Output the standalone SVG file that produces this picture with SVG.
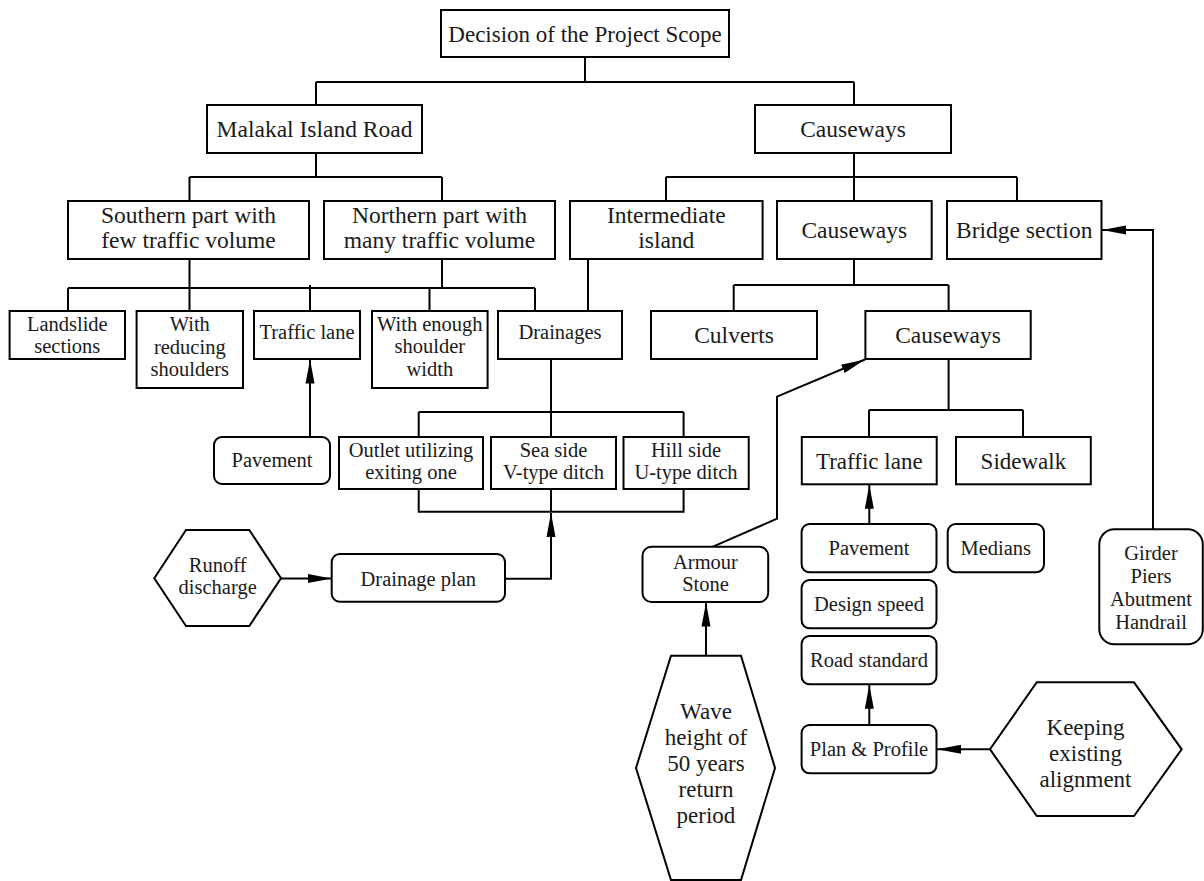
<svg xmlns="http://www.w3.org/2000/svg" width="1204" height="881" viewBox="0 0 1204 881">
<style>
.box{fill:#fff;stroke:#000;stroke-width:2}
.ln{fill:none;stroke:#000;stroke-width:2}
.arr{fill:none;stroke:#000;stroke-width:2;marker-end:url(#ah)}
text{font-family:'Liberation Serif','DejaVu Serif',serif;fill:#1a1a1a;text-anchor:middle}
.b{font-size:23.5px}
.m{font-size:23px}
.s{font-size:20.5px}
</style>
<defs>
<marker id="ah" markerUnits="userSpaceOnUse" markerWidth="25" markerHeight="10" refX="24" refY="5" orient="auto">
<path d="M0,0.5 L24,5 L0,9.5 z" fill="#000"/>
</marker>
</defs>
<rect width="1204" height="881" fill="#fff"/>
<g id="connectors">
<path class="ln" d="M585,57 V82 M316,82 H854 M316,82 V105 M854,82 V105"/>
<path class="ln" d="M316,153 V177 M189.5,177 H442 M189.5,177 V201 M442,177 V201"/>
<path class="ln" d="M854,153 V177 M666,177 H1017 M666,177 V201 M854,177 V201 M1017,177 V201"/>
<path class="ln" d="M189.5,259 V288 M442,259 V288 M68,288 H535 M68,288 V311 M189.5,288 V311 M310,285 V311 M429.5,288 V311 M535,288 V311"/>
<path class="ln" d="M588,259 V311"/>
<path class="ln" d="M551,359 V437 M418.7,412 H683.6 M418.7,412 V437 M683.6,412 V437"/>
<path class="ln" d="M418.7,489 V511.7 H683.6 V489 M551,489 V512"/>
<path class="arr" d="M505,578.7 H551 V513"/>
<path class="arr" d="M281,578.5 H331.7"/>
<path class="arr" d="M310,437 V359.5"/>
<path class="ln" d="M854,259 V285 M733.7,285 H948.6 M733.7,285 V311 M948.6,285 V311"/>
<path class="ln" d="M948.6,359 V410 M869,410 H1023 M869,410 V437 M1023,410 V437"/>
<path class="arr" d="M869.3,524 V484.8"/>
<path class="arr" d="M869.3,725 V684.8"/>
<path class="arr" d="M990,749.3 H937"/>
<path class="arr" d="M706,655.7 V602.5"/>
<path class="arr" d="M713,546.7 L777,518.7 V396.7 L865,359.5"/>
<path class="arr" d="M1153,529.3 V230 H1102"/>
</g>
<g id="n-top"><rect class="box" x="441" y="10" width="288" height="47"/><text class="m" x="585" y="41.5">Decision of the Project Scope</text></g>
<g id="n-malakal"><rect class="box" x="207" y="105" width="215" height="48"/><text class="b" x="314.5" y="136.5">Malakal Island Road</text></g>
<g id="n-causeways1"><rect class="box" x="755" y="105" width="196" height="48"/><text class="b" x="853" y="136.5">Causeways</text></g>
<g id="n-southern"><rect class="box" x="68" y="201" width="241" height="58"/><text class="b" x="188.5" y="223.3">Southern part with</text><text class="b" x="188.5" y="248.3">few traffic volume</text></g>
<g id="n-northern"><rect class="box" x="324" y="201" width="231" height="58"/><text class="b" x="439.5" y="223.3">Northern part with</text><text class="b" x="439.5" y="248.3">many traffic volume</text></g>
<g id="n-intermediate"><rect class="box" x="570" y="201" width="192.6" height="58"/><text class="b" x="666.3" y="222.7">Intermediate</text><text class="b" x="666.3" y="248.3">island</text></g>
<g id="n-causeways2"><rect class="box" x="777" y="201" width="154.7" height="58"/><text class="b" x="854.3" y="238.3">Causeways</text></g>
<g id="n-bridge"><rect class="box" x="947" y="201" width="154.5" height="58"/><text class="b" x="1024.2" y="238.3">Bridge section</text></g>
<g id="n-landslide"><rect class="box" x="9.6" y="311" width="115.4" height="48"/><text class="s" x="67.3" y="330.7">Landslide</text><text class="s" x="67.3" y="353.3">sections</text></g>
<g id="n-reducing"><rect class="box" x="136.6" y="311" width="106.4" height="77"/><text class="s" x="189.8" y="330.7">With</text><text class="s" x="189.8" y="353.5">reducing</text><text class="s" x="189.8" y="376">shoulders</text></g>
<g id="n-trafficlane1"><rect class="box" x="254" y="311" width="106" height="48"/><text class="s" x="307" y="339.3">Traffic lane</text></g>
<g id="n-enough"><rect class="box" x="372" y="311" width="115.6" height="77"/><text class="s" x="429.8" y="330.5">With enough</text><text class="s" x="429.8" y="353.3">shoulder</text><text class="s" x="429.8" y="376">width</text></g>
<g id="n-drainages"><rect class="box" x="498" y="311" width="124" height="48"/><text class="s" x="560" y="339.3">Drainages</text></g>
<g id="n-culverts"><rect class="box" x="651" y="311" width="166" height="48"/><text class="b" x="734" y="343">Culverts</text></g>
<g id="n-causeways3"><rect class="box" x="865.4" y="311" width="165.3" height="48"/><text class="b" x="948" y="343">Causeways</text></g>
<g id="n-pavement1"><rect class="box" x="214" y="437" width="116" height="47" rx="8"/><text class="s" x="272" y="467.3">Pavement</text></g>
<g id="n-outlet"><rect class="box" x="339" y="437" width="144" height="52"/><text class="s" x="411" y="456.7">Outlet utilizing</text><text class="s" x="411" y="479.3">exiting one</text></g>
<g id="n-seaside"><rect class="box" x="491" y="437" width="125" height="52"/><text class="s" x="553.5" y="456.7">Sea side</text><text class="s" x="553.5" y="479.3">V-type ditch</text></g>
<g id="n-hillside"><rect class="box" x="623.5" y="437" width="125.2" height="52"/><text class="s" x="686" y="456.7">Hill side</text><text class="s" x="686" y="479.3">U-type ditch</text></g>
<g id="n-trafficlane2"><rect class="box" x="801.8" y="437" width="134.9" height="47.3"/><text class="m" x="869.3" y="469.3">Traffic lane</text></g>
<g id="n-sidewalk"><rect class="box" x="956" y="437" width="134.8" height="47.3"/><text class="m" x="1023.4" y="469.3">Sidewalk</text></g>
<g id="n-runoff"><polygon class="box" points="186,530 249.3,530 281,578.3 249.3,626 186,626 154.3,578.3"/><text class="s" x="217.7" y="572">Runoff</text><text class="s" x="217.7" y="594">discharge</text></g>
<g id="n-drainageplan"><rect class="box" x="331.7" y="554" width="173.3" height="47.7" rx="8"/><text class="s" x="418.3" y="586">Drainage plan</text></g>
<g id="n-armour"><rect class="box" x="642.5" y="546.7" width="125.7" height="55.3" rx="9"/><text class="s" x="705.5" y="569">Armour</text><text class="s" x="705.5" y="591">Stone</text></g>
<g id="n-pavement2"><rect class="box" x="801.6" y="524" width="134.9" height="48.3" rx="8"/><text class="s" x="869" y="554.5">Pavement</text></g>
<g id="n-medians"><rect class="box" x="947.7" y="524" width="96.3" height="48.3" rx="8"/><text class="s" x="995.8" y="554.5">Medians</text></g>
<g id="n-designspeed"><rect class="box" x="801.6" y="580" width="134.9" height="48.3" rx="8"/><text class="s" x="869" y="611">Design speed</text></g>
<g id="n-roadstandard"><rect class="box" x="801.6" y="636" width="134.9" height="48.3" rx="8"/><text class="s" x="869" y="667">Road standard</text></g>
<g id="n-planprofile"><rect class="box" x="801.6" y="725" width="134.9" height="48.3" rx="8"/><text class="s" x="869" y="756">Plan &amp; Profile</text></g>
<g id="n-wave"><polygon class="box" points="671,655.7 741,655.7 775,768 741,880 671,880 636,768"/><text class="m" x="706" y="719">Wave</text><text class="m" x="706" y="745">height of</text><text class="m" x="706" y="771">50 years</text><text class="m" x="706" y="797">return</text><text class="m" x="706" y="823">period</text></g>
<g id="n-keeping"><polygon class="box" points="1036.8,682.3 1134,682.3 1181.7,749.3 1134,816 1036.8,816 990,749.3"/><text class="m" x="1085.5" y="735">Keeping</text><text class="m" x="1085.5" y="761">existing</text><text class="m" x="1085.5" y="787">alignment</text></g>
<g id="n-girder"><rect class="box" x="1099.3" y="529.3" width="103.5" height="115" rx="15"/><text class="s" x="1151" y="560">Girder</text><text class="s" x="1151" y="583">Piers</text><text class="s" x="1151" y="606">Abutment</text><text class="s" x="1151" y="629">Handrail</text></g>
</svg>
